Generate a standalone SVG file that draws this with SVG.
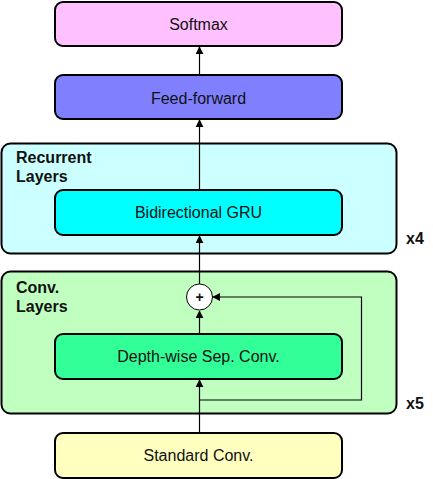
<svg xmlns="http://www.w3.org/2000/svg" width="433" height="479" viewBox="0 0 433 479">
<defs>
<marker id="ah" viewBox="0 0 10 10" refX="9" refY="5" markerWidth="8" markerHeight="8" markerUnits="userSpaceOnUse" orient="auto"><path d="M0,0 L10,5 L0,10 z" fill="#000"/></marker>
<style>
.box{stroke:#000;stroke-width:2}
.t{font-family:"Liberation Sans",Arial,sans-serif;font-size:16px;fill:#111;text-anchor:middle}
.b{font-family:"Liberation Sans",Arial,sans-serif;font-size:16px;font-weight:bold;fill:#111}
.c{stroke:#000;stroke-width:1.2;fill:none}
</style>
</defs>
<rect width="433" height="479" fill="#fff"/>
<g id="recurrent-group">
<rect class="box" x="1.5" y="143.5" width="395" height="110" rx="9" fill="#ccffff"/>
<text class="b" x="16" y="163">Recurrent</text>
<text class="b" x="16" y="182">Layers</text>
<text class="b" x="406" y="244">x4</text>
</g>
<g id="conv-group">
<rect class="box" x="1.5" y="271.5" width="395" height="142" rx="9" fill="#c0ffc0"/>
<text class="b" x="16" y="293">Conv.</text>
<text class="b" x="16" y="312">Layers</text>
<text class="b" x="406" y="409">x5</text>
</g>
<g id="softmax">
<rect class="box" x="55" y="2" width="287" height="44" rx="8" fill="#ffc0ff"/>
<text class="t" x="198.5" y="30">Softmax</text>
</g>
<g id="feedforward">
<rect class="box" x="55" y="75" width="287" height="44" rx="8" fill="#8080ff"/>
<text class="t" x="198.5" y="104">Feed-forward</text>
</g>
<g id="gru">
<rect class="box" x="55" y="190" width="287" height="45" rx="8" fill="#00ffff"/>
<text class="t" x="198.5" y="218">Bidirectional GRU</text>
</g>
<g id="plus">
<circle cx="199.5" cy="297" r="13" fill="#fff" stroke="#000" stroke-width="1"/>
<text class="t" x="199.5" y="302" style="font-weight:bold;font-size:14px">+</text>
</g>
<g id="depthwise">
<rect class="box" x="55" y="334" width="287" height="45" rx="8" fill="#33ff99"/>
<text class="t" x="198.5" y="362">Depth-wise Sep. Conv.</text>
</g>
<g id="standard">
<rect class="box" x="55" y="433" width="287" height="45" rx="8" fill="#ffffc0"/>
<text class="t" x="198.5" y="461">Standard Conv.</text>
</g>
<g id="connectors">
<line class="c" x1="199.5" y1="432" x2="199.5" y2="380" marker-end="url(#ah)"/>
<polyline class="c" points="199.5,400 361.5,400 361.5,297 213,297" marker-end="url(#ah)"/>
<line class="c" x1="199.5" y1="334" x2="199.5" y2="311" marker-end="url(#ah)"/>
<line class="c" x1="199.5" y1="284" x2="199.5" y2="236" marker-end="url(#ah)"/>
<line class="c" x1="199.5" y1="190" x2="199.5" y2="120" marker-end="url(#ah)"/>
<line class="c" x1="199.5" y1="75" x2="199.5" y2="47" marker-end="url(#ah)"/>
</g>
</svg>
